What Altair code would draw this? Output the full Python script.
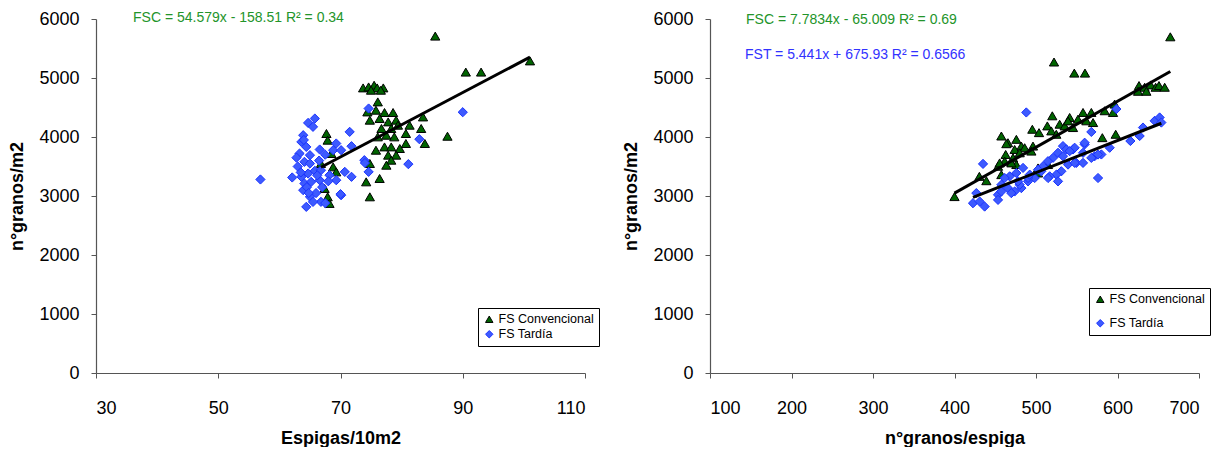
import altair as alt
import pandas as pd

SERIES = ["FS Convencional", "FS Tardía"]

# ---------------- Left panel: Espigas/10m2 vs n°granos/m2 ----------------
L_conv_x = [85.5, 101.0, 90.5, 93.0, 73.7, 74.6, 75.5, 76.0, 77.0, 75.0, 76.6, 76.1, 74.4, 75.8,
            77.2, 78.6, 74.8, 76.4, 77.8, 79.1, 81.3, 83.5, 76.7, 78.3, 79.4, 80.7, 83.2, 76.1,
            77.5, 78.8, 75.8, 77.2, 78.3, 79.7, 80.7, 83.8, 77.8, 79.1, 78.3, 77.5, 74.8, 74.2,
            76.4, 74.8, 87.5, 67.7, 67.9, 66.8, 68.5, 68.8, 69.3, 67.4, 67.9, 68.2]
L_conv_y = [5710, 5290, 5100, 5100, 4832, 4849, 4877, 4832, 4832, 4793, 4793, 4595, 4425, 4454,
            4415, 4415, 4285, 4313, 4256, 4285, 4200, 4340, 4144, 4144, 4200, 4059, 4144, 4002,
            4030, 4002, 3776, 3832, 3832, 3805, 3890, 3890, 3692, 3692, 3607, 3522, 3551, 3240,
            3297, 2986, 4013, 4059, 3946, 3551, 3720, 3494, 3409, 3128, 2986, 2874]
L_tard_x = [56.9, 62.1, 63.6, 64.7, 65.8, 65.5, 63.9, 63.6, 64.4, 63.3, 65.0, 64.1, 66.6, 65.8,
            64.7, 66.8, 64.1, 65.2, 66.6, 63.9, 65.0, 64.4, 66.8, 69.3, 68.8, 70.1, 71.5, 71.8,
            69.3, 70.7, 71.8, 70.1, 68.2, 74.6, 73.9, 74.6, 82.9, 81.1, 90.0, 70.0, 63.0, 64.5,
            66.0, 67.0, 67.5, 65.5, 66.2, 62.8, 64.0, 67.5, 63.5, 65.0, 68.0, 64.8, 66.5, 74.0]
L_tard_y = [3280, 3314, 3325, 4239, 4313, 4172, 4030, 3917, 3832, 3720, 3692, 3579, 3788, 3426,
            3381, 3437, 3212, 3240, 3268, 3099, 2986, 2816, 2901, 3890, 3776, 3776, 4087, 3844,
            3268, 3409, 3325, 3014, 3353, 4483, 3607, 3409, 3963, 3540, 4420, 3031, 3500, 3150,
            3050, 3150, 2880, 2900, 3350, 3650, 3950, 3700, 3400, 3550, 3250, 3050, 3600, 3560]

# ---------------- Right panel: n°granos/espiga vs n°granos/m2 ----------------
R_conv_x = [664.8, 522.1, 547.0, 560.1, 626.4, 633.3, 640.7, 646.8, 650.9, 657.9, 625.2, 635.4,
            596.5, 584.3, 594.5, 557.7, 567.9, 541.3, 551.5, 561.8, 570.0, 520.0, 529.0, 535.2,
            545.4, 495.5, 503.7, 513.9, 518.8, 524.9, 457.5, 465.6, 475.9, 482.0, 486.1, 496.3,
            462.8, 473.8, 480.0, 494.3, 461.6, 471.8, 475.9, 502.5, 514.7, 453.4, 457.5, 430.5,
            439.1, 581.4, 597.8, 400.0, 539.3, 469.8, 502.5, 463.6, 455.4]
R_conv_y = [5698, 5271, 5083, 5083, 4872, 4843, 4883, 4843, 4872, 4843, 4775, 4775,
            4558, 4445, 4416, 4416, 4416, 4331, 4302, 4274, 4245, 4359, 4217, 4188,
            4160, 4131, 4074, 4188, 4103, 4046, 4017, 3903, 3960, 3846, 3818, 3846,
            3704, 3789, 3732, 3761, 3590, 3647, 3533, 3476, 3533, 3504, 3362, 3333,
            3259, 3989, 4046, 2990, 4273, 3561, 3390, 3886, 3561]
R_tard_x = [488.1, 435.0, 598.6, 567.9, 576.1, 615.8, 627.2, 631.3, 645.6, 651.7, 653.8, 590.4,
            580.2, 572.0, 559.7, 545.4, 533.1, 527.0, 549.5, 539.3, 531.1, 525.0, 516.8, 506.5,
            498.4, 490.2, 482.0, 473.8, 508.6, 520.9, 533.1, 475.9, 467.7, 461.6, 457.5, 465.6,
            453.4, 469.7, 480.0, 490.2, 422.7, 430.9, 437.0, 426.8, 484.1, 492.3, 502.5, 514.7,
            477.9, 537.2, 547.4, 541.3, 557.7, 567.9, 576.1, 547.5, 557.7, 514.8, 527.0, 559.7,
            453.4, 457.5]
R_tard_y = [4416, 3544, 4473, 4086, 3305, 3932, 4017, 4160, 4274, 4331, 4245, 3818,
            3704, 3675, 3875, 3789, 3846, 3732, 3561, 3533, 3419, 3362, 3333, 3419,
            3305, 3248, 3134, 3077, 3504, 3647, 3675, 3390, 3333, 3305, 3191, 3134,
            3020, 3049, 3191, 3305, 2878, 2906, 2821, 3049, 3476, 3362, 3447, 3590,
            3248, 3789, 3818, 3760, 3732, 3646, 3703, 3561, 3561, 3305, 3248, 3903,
            2934, 3077]

# Trendline equations as printed in the chart
L_fit_slope = [54.579]
L_fit_intercept = [-158.51]
R_fit_slope = [7.7834, 5.441]
R_fit_intercept = [-65.009, 675.93]

L_notes = ["FSC = 54.579x - 158.51 R² = 0.34"]
R_notes = ["FSC = 7.7834x - 65.009 R² = 0.69", "FST = 5.441x + 675.93 R² = 0.6566"]

GREEN = "#006400"
BLUE = "#3d5afe"
BLUE_EDGE = "#1a33ff"
TXT_GREEN = "#23942a"
TXT_BLUE = "#3232ff"
FONT = "Liberation Sans"


def panel(cx, cy, tx, ty, slopes, intercepts, fit_series, xdom, xticks, xtitle,
          leg_x, leg_y, leg_rowpad, notes, note_colors, note_pos):
    pts = pd.DataFrame({
        "x": cx + tx,
        "y": cy + ty,
        "serie": [SERIES[0]] * len(cx) + [SERIES[1]] * len(tx),
    })
    xs = {SERIES[0]: cx, SERIES[1]: tx}
    rows = []
    for s, m, b in zip(fit_series, slopes, intercepts):
        for xv in (min(xs[s]), max(xs[s])):
            rows.append({"x": xv, "y": m * xv + b, "serie": s})
    fit = pd.DataFrame(rows)

    xscale = alt.Scale(domain=xdom, nice=False, zero=False)
    yscale = alt.Scale(domain=[0, 6000], nice=False)
    xaxis = alt.Axis(values=xticks, title=xtitle, grid=False, labelPadding=21,
                     titlePadding=12, format="d")
    yaxis = alt.Axis(values=list(range(0, 6001, 1000)), title="n°granos/m2", grid=False,
                     labelPadding=12, titlePadding=12, format="d")
    leg = alt.Legend(orient="none", legendX=leg_x, legendY=leg_y, title=None,
                     fillColor="white", strokeColor="black", padding=5,
                     labelFontSize=12.5, labelFont=FONT, symbolSize=55,
                     rowPadding=leg_rowpad, symbolStrokeWidth=1, labelOffset=3,
                     cornerRadius=0)
    points = alt.Chart(pts).mark_point(filled=True, size=85, strokeWidth=1, opacity=1).encode(
        x=alt.X("x:Q", scale=xscale, axis=xaxis),
        y=alt.Y("y:Q", scale=yscale, axis=yaxis),
        shape=alt.Shape("serie:N", scale=alt.Scale(domain=SERIES, range=["triangle-up", "diamond"]),
                        legend=leg),
        fill=alt.Fill("serie:N", scale=alt.Scale(domain=SERIES, range=[GREEN, BLUE]), legend=leg),
        stroke=alt.Stroke("serie:N", scale=alt.Scale(domain=SERIES, range=["black", BLUE_EDGE]),
                          legend=None),
    )
    lines = alt.Chart(fit).mark_line(color="black", strokeWidth=3).encode(
        x=alt.X("x:Q", scale=xscale),
        y=alt.Y("y:Q", scale=yscale),
        detail="serie:N",
    )
    layers = [points, lines]
    for t, c, (px, py) in zip(notes, note_colors, note_pos):
        layers.append(
            alt.Chart(pd.DataFrame({"t": [t]})).mark_text(
                align="left", baseline="middle", fontSize=14, font=FONT, color=c
            ).encode(x=alt.value(px), y=alt.value(py), text="t:N")
        )
    return alt.layer(*layers).properties(width=489, height=354)


left = panel(L_conv_x, L_conv_y, L_tard_x, L_tard_y, L_fit_slope, L_fit_intercept,
             [SERIES[0]], [30, 110], [30, 50, 70, 90, 110], "Espigas/10m2",
             382, 289, 2, L_notes, [TXT_GREEN], [(37, -1)])
right = panel(R_conv_x, R_conv_y, R_tard_x, R_tard_y, R_fit_slope, R_fit_intercept,
              SERIES, [100, 700], [100, 200, 300, 400, 500, 600, 700], "n°granos/espiga",
              379, 269, 11, R_notes, [TXT_GREEN, TXT_BLUE], [(36, 1), (35, 36)])

chart = alt.hconcat(left, right, spacing=22,
                    padding={"top": 2, "left": 0, "right": 0, "bottom": 0}).resolve_legend(
    fill="independent", shape="independent", stroke="independent"
).resolve_scale(x="independent").configure_view(stroke=None).configure_axis(
    labelFont=FONT, titleFont=FONT, labelFontSize=18, titleFontSize=18,
    titleFontWeight="bold", labelColor="black", titleColor="black",
    domainColor="#555555", tickColor="#555555", tickSize=5, domainWidth=1.2,
)

chart.save("out.html", embed_options={"renderer": "svg", "actions": False})
